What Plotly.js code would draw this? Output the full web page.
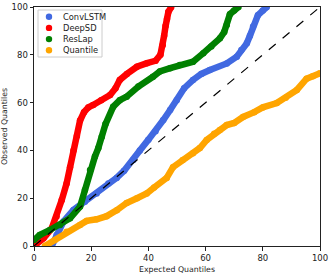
<!DOCTYPE html>
<html>
<head>
<meta charset="utf-8">
<script src="https://cdn.plot.ly/plotly-3.0.1.min.js"></script>
<style>html,body{margin:0;padding:0;background:#fff;}#chart{width:333px;height:274px;}</style>
</head>
<body>
<div id="chart"></div>
<script>
const seriesNames = ["ConvLSTM", "DeepSD", "ResLap", "Quantile"];
const seriesColors = ["royalblue", "red", "green", "orange"];

const convX = [6.2,7.9,10.3,13.8,17.8,21.9,26,28.9,31.5,34.7,37,40,42.5,45.2,47.6,49.9,52.5,55.6,58.5,61.5,67.4,70.9,72.5,74.4,75.5,76.6,78.3,80,81.4];
const convY = [0,4.6,10.2,15.1,18.5,22,26.2,28.5,31.5,36,40,44.5,48,52.7,56.9,61,66,69.5,72,73.6,76.4,79.2,82,84.8,88,91.8,96.6,98.5,100];

const deepX = [0,3.3,6.2,7.9,9.7,11.4,12.6,13.8,15,16.1,17.5,19,20.7,23.5,26.6,28.5,30,32.5,36,39.5,42.5,44.2,45,45.5,46,46.5,47,48];
const deepY = [0,3.2,7.4,12.3,19.2,26.2,33,40,46,52.5,56,58,59,61,63.2,66,69.5,72,75,76.5,77.5,80,84,88,92,95,98,100];

const resX = [0,2,5.6,9.1,12.6,16.1,17.8,19.6,21.3,22.5,23.7,25,27.7,30,32.4,36.5,41.6,44,47.6,51,55.6,59.2,62,65,66.5,67.4,68.5,70,71.5];
const resY = [2.5,4.6,6.7,8.8,11.6,16.5,23.4,31.8,37.4,41,45.7,51,58.3,61,62.5,66.7,70.8,73,74.4,75.7,77.1,80.7,83.5,86.9,89.5,92.5,97,98.5,100];

const quantX = [3.8,7.3,11.4,16.1,18.4,21.9,25.4,29,32.4,36,39.4,42,46.4,48.6,52,55.6,58,60.4,63,65,67.4,70,73.1,77,80,84.9,88,91.9,95.3,97.5,100];
const quantY = [0,2.5,6,8.8,10.5,11.2,12.5,15,18,20,22,24.5,28.5,33,36,38.8,41,44.4,47,48.5,50.6,51.5,54,56,58,59.8,62,65.3,70,71,72.3];

const refX = [0, 100];
const refY = [0, 100];
const tickVals = [0, 20, 40, 60, 80, 100];

const xs = [convX, deepX, resX, quantX];
const ys = [convY, deepY, resY, quantY];

const traces = [];
for (let i = 0; i < 4; i++) {
  traces.push({
    x: xs[i], y: ys[i], mode: 'lines+markers', type: 'scatter', name: seriesNames[i],
    line: {color: seriesColors[i], width: 6.5},
    marker: {color: seriesColors[i], size: 6.5},
    showlegend: false
  });
}
traces.push({
  x: refX, y: refY, mode: 'lines', type: 'scatter', name: 'y = x',
  line: {color: 'black', width: 1.2, dash: 'dash'}, showlegend: false
});

// Legend drawn in paper coordinates (plot area: 286 x 239 px)
const pw = 286, ph = 239;
const px = v => v / pw, py = v => 1 - v / ph;
const shapes = [{
  type: 'rect', xref: 'paper', yref: 'paper',
  x0: px(4), x1: px(68), y0: py(3), y1: py(50),
  line: {color: '#cccccc', width: 1}, fillcolor: 'rgba(255,255,255,0.85)', layer: 'above'
}];
const annotations = [];
seriesNames.forEach((n, i) => {
  const cy = 9.7 + i * 11.2;
  shapes.push({
    type: 'circle', xref: 'paper', yref: 'paper',
    x0: px(15 - 3.2), x1: px(15 + 3.2), y0: py(cy + 3.2), y1: py(cy - 3.2),
    line: {width: 0}, fillcolor: seriesColors[i], layer: 'above'
  });
  annotations.push({
    xref: 'paper', yref: 'paper', x: px(27), y: py(cy), xanchor: 'left', yanchor: 'middle',
    text: n, showarrow: false, font: {size: 8.3, color: '#222', family: 'DejaVu Sans'}
  });
});

const axisCommon = {
  range: [0, 100], tickvals: tickVals, ticks: 'outside', ticklen: 3.5, tickwidth: 1,
  tickcolor: '#222', showline: true, linecolor: '#222', linewidth: 1, mirror: true,
  showgrid: false, zeroline: false, tickfont: {size: 8.5, color: '#222'}
};

const layout = {
  width: 333, height: 274,
  margin: {l: 34, r: 13, t: 7, b: 28},
  paper_bgcolor: '#fff', plot_bgcolor: '#fff',
  font: {family: 'DejaVu Sans', color: '#222'},
  xaxis: Object.assign({}, axisCommon, {title: {text: 'Expected Quantiles', font: {size: 7.8}, standoff: 4}}),
  yaxis: Object.assign({}, axisCommon, {title: {text: 'Observed Quantiles', font: {size: 7.8}, standoff: 6}}),
  shapes: shapes,
  annotations: annotations,
  showlegend: false
};

Plotly.newPlot('chart', traces, layout, {displayModeBar: false, staticPlot: true});
</script>
</body>
</html>
